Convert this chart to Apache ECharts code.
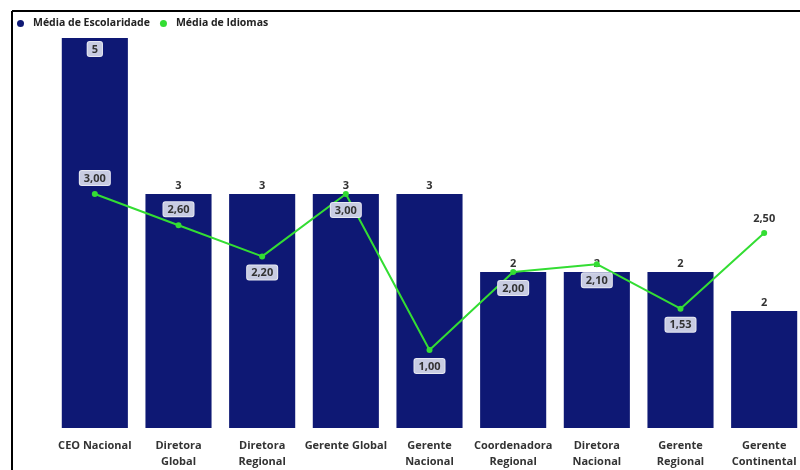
<!DOCTYPE html>
<html><head><meta charset="utf-8">
<script src="https://cdn.jsdelivr.net/npm/echarts@6/dist/echarts.min.js"></script>
<style>html,body{margin:0;padding:0;background:#fff;overflow:hidden}#c{width:812px;height:470px}</style>
</head><body><div id="c"></div>
<script>
const categories = ["CEO Nacional","Diretora Global","Diretora Regional","Gerente Global","Gerente Nacional","Coordenadora Regional","Diretora Nacional","Gerente Regional","Gerente Continental"];
const tickLabels = ["CEO Nacional","Diretora\nGlobal","Diretora\nRegional","Gerente Global","Gerente\nNacional","Coordenadora\nRegional","Diretora\nNacional","Gerente\nRegional","Gerente\nContinental"];
const escolaridade = [5, 3, 3, 3, 3, 2, 2, 2, 1.5];
const idiomas = [3.00, 2.60, 2.20, 3.00, 1.00, 2.00, 2.10, 1.53, 2.50];
const idiomasLabelPos = ["top","top","bottom","bottom","bottom","bottom","bottom","bottom","top"];
const idiomasLabelBox = [true,true,true,true,true,true,true,true,false];

const font = '"Open Sans", "Noto Sans", sans-serif';
const boxStyle = {backgroundColor:'#c8cce2', borderColor:'#e6e8f2', borderWidth:1, borderRadius:2, padding:[2,4,1,4]};
const chart = echarts.init(document.getElementById('c'));
chart.setOption({
  animation:false,
  textStyle:{fontFamily:font},
  legend:{left:12, top:13, itemWidth:7, itemHeight:7, itemGap:10, icon:'circle',
    textStyle:{fontFamily:font, fontSize:10.5, fontWeight:'bold', color:'#222', padding:[0,0,0,4]},
    data:['Média de Escolaridade','Média de Idiomas']},
  grid:{left:53, width:753, top:38, bottom:38, containLabel:false},
  xAxis:{type:'category', data:categories,
    axisLine:{show:false}, axisTick:{show:false},
    axisLabel:{interval:0, margin:10, lineHeight:16,
      formatter:(v,i)=>tickLabels[i],
      fontFamily:font, fontSize:11, fontWeight:'bold', color:'#333'}},
  yAxis:{type:'value', min:0, max:5, show:false, splitLine:{show:false}},
  series:[
    {name:'Média de Escolaridade', type:'bar', barWidth:'79%',
     itemStyle:{color:'#0e1874'},
     data: escolaridade.map((v,i)=>{
       const d={value:v};
       if(v>=5){ d.label={position:'insideTop', distance:4, ...boxStyle}; }
       return d;
     }),
     label:{show:true, position:'top', distance:3, fontFamily:font, fontSize:11, fontWeight:'bold', color:'#333',
       formatter:p=>Math.round(p.value).toString()}},
    {name:'Média de Idiomas', type:'line', symbol:'circle', symbolSize:6,
     itemStyle:{color:'#33dd33'}, lineStyle:{color:'#33dd33', width:2},
     data: idiomas.map((v,i)=>{
       const lab={position:idiomasLabelPos[i], distance:6};
       if(idiomasLabelBox[i]) Object.assign(lab, boxStyle);
       return {value:v, label:lab};
     }),
     label:{show:true, fontFamily:font, fontSize:11, fontWeight:'bold', color:'#333',
       formatter:p=>p.value.toFixed(2).replace('.',',')}}
  ],
  graphic:[
    {type:'line', shape:{x1:12, y1:11, x2:812, y2:11}, style:{stroke:'#000', lineWidth:2}},
    {type:'line', shape:{x1:12, y1:11, x2:12, y2:470}, style:{stroke:'#000', lineWidth:2}}
  ]
});
</script></body></html>
